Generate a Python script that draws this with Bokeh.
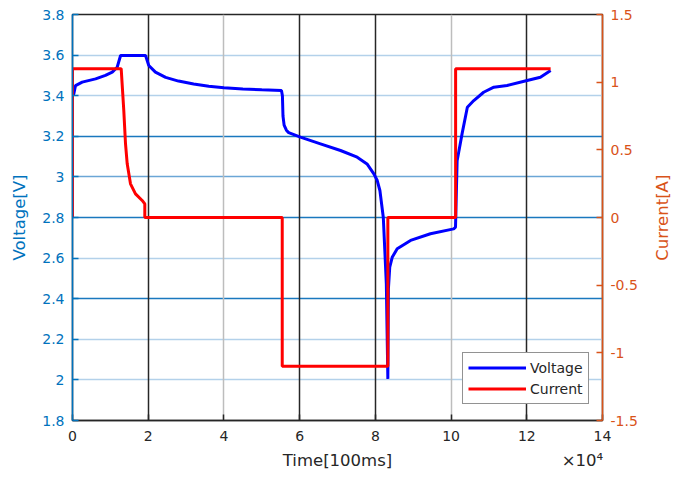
import math
from bokeh.plotting import figure
from bokeh.models import (Range1d, LinearAxis, FixedTicker, Grid,
                          CustomJSTickFormatter)
from bokeh.embed import file_html
from bokeh.resources import INLINE

# ---------------- data (time in units of 1e4 x 100ms) ----------------
volt_t = [0.0, 0.034, 0.08, 0.256, 0.61, 0.87, 1.05, 1.18, 1.27, 1.93,
          2.015, 2.19, 2.46, 2.8, 3.2, 3.6, 4.0, 4.5, 5.0, 5.52,
          5.545, 5.56, 5.59, 5.65, 5.71, 6.02, 6.55, 7.08, 7.52, 7.78,
          7.96, 8.05, 8.12, 8.21, 8.29, 8.33,
          8.345, 8.38, 8.445, 8.577, 8.93, 9.455, 10.07, 10.117,
          10.16, 10.29, 10.43, 10.6, 10.86, 11.13, 11.48, 12.01, 12.36, 12.63]
volt_v = [3.40, 3.409, 3.45, 3.467, 3.483, 3.50, 3.516, 3.54, 3.598, 3.598,
          3.549, 3.516, 3.49, 3.472, 3.458, 3.447, 3.439, 3.433, 3.429, 3.426,
          3.40, 3.30, 3.255, 3.23, 3.218, 3.196, 3.163, 3.13, 3.097, 3.064,
          3.015, 2.982, 2.933, 2.80, 2.473, 2.005,
          2.45, 2.555, 2.604, 2.646, 2.687, 2.72, 2.744, 2.752,
          3.08, 3.212, 3.343, 3.376, 3.417, 3.442, 3.45, 3.475, 3.491, 3.524]

curr_t = [0.0, 0.0, 1.286, 1.355, 1.40, 1.445, 1.532, 1.664, 1.84, 1.91,
          1.91, 5.54, 5.54, 8.33, 8.33, 10.12, 10.12, 12.63]
curr_a = [0.0, 1.1, 1.1, 0.79, 0.545, 0.397, 0.249, 0.175, 0.126, 0.10,
          0.0, 0.0, -1.1, -1.1, 0.0, 0.0, 1.1, 1.1]

x_ticks = [0, 2, 4, 6, 8, 10, 12, 14]
v_ticks = [1.8, 2.0, 2.2, 2.4, 2.6, 2.8, 3.0, 3.2, 3.4, 3.6, 3.8]
i_ticks = [-1.5, -1.0, -0.5, 0.0, 0.5, 1.0, 1.5]

x_title = "Time[100ms]"
x_exponent = "×10⁴"
y_title = "Voltage[V]"
y2_title = "Current[A]"

# grid line groups (styling of the reference's rendered grid)
v_grid_light = [2.0, 2.2, 2.6, 3.4, 3.6]
v_grid_mid = [3.0]
v_grid_dark = [2.4, 2.8, 3.2]
x_grid_dark = [2, 6, 8, 12]
x_grid_gray = [4, 10]

# label anchor positions (layout only)
X_TITLE_POS = 7.0
X_EXP_POS = 13.47
Y2_TITLE_POS = -0.32

BLUE_AX = "#0072BD"
ORANGE_AX = "#D95319"
DARK = "#262626"
FONT = "DejaVu Sans"

fmt = CustomJSTickFormatter(code="return String(Math.round(tick*10)/10);")

p = figure(frame_width=530, frame_height=406,
           x_range=Range1d(0, 14), y_range=Range1d(1.8, 3.8),
           output_backend="svg", toolbar_location=None,
           x_axis_location=None, y_axis_location=None,
           min_border_left=72, min_border_right=78,
           min_border_top=14, min_border_bottom=59,
           background_fill_color="white", border_fill_color="white")
p.extra_y_ranges = {"curr": Range1d(-1.5, 1.5)}
p.grid.visible = False
p.outline_line_color = DARK
p.outline_line_width = 1.5

def add_grid(dim, ticks, color):
    g = Grid(dimension=dim, ticker=FixedTicker(ticks=ticks),
             grid_line_color=color, grid_line_width=1.5)
    p.add_layout(g)

add_grid(1, v_grid_light, "#B3D1EA")
add_grid(1, v_grid_mid, "#6BA6D6")
add_grid(1, v_grid_dark, "#1A78BE")
add_grid(0, x_grid_gray, "#BDBDBD")
add_grid(0, x_grid_dark, DARK)

def style_axis(ax, color, size="14px"):
    ax.axis_line_color = color
    ax.axis_line_width = 1.5
    ax.major_tick_line_color = color
    ax.major_tick_line_width = 1.5
    ax.major_tick_in = 6
    ax.major_tick_out = 0
    ax.minor_tick_line_color = None
    ax.major_label_text_color = color
    ax.major_label_text_font = FONT
    ax.major_label_text_font_size = size
    ax.axis_label_text_color = color
    ax.axis_label_text_font = FONT
    ax.axis_label_text_font_size = "16.5px"
    ax.axis_label_text_font_style = "normal"
    ax.formatter = fmt

def bare_axis(ax, color, size="16.5px"):
    ax.axis_line_color = None
    ax.major_tick_line_color = None
    ax.minor_tick_line_color = None
    ax.major_tick_in = 0
    ax.major_tick_out = 0
    ax.major_label_text_color = color
    ax.major_label_text_font = FONT
    ax.major_label_text_font_size = size

left = LinearAxis(ticker=FixedTicker(ticks=v_ticks), axis_label=y_title)
style_axis(left, BLUE_AX)
left.major_label_standoff = 8
left.axis_label_standoff = 10
p.add_layout(left, "left")

right = LinearAxis(y_range_name="curr", ticker=FixedTicker(ticks=i_ticks))
style_axis(right, ORANGE_AX)
right.major_label_standoff = 8
p.add_layout(right, "right")

right_title = LinearAxis(y_range_name="curr",
                         ticker=FixedTicker(ticks=[Y2_TITLE_POS]),
                         major_label_overrides={Y2_TITLE_POS: y2_title},
                         major_label_orientation=math.pi / 2)
bare_axis(right_title, ORANGE_AX)
right_title.major_label_standoff = 22
p.add_layout(right_title, "right")

bottom = LinearAxis(ticker=FixedTicker(ticks=x_ticks))
style_axis(bottom, DARK)
bottom.major_label_standoff = 10
p.add_layout(bottom, "below")

bottom_title = LinearAxis(ticker=FixedTicker(ticks=[X_TITLE_POS, X_EXP_POS]),
                          major_label_overrides={X_TITLE_POS: x_title,
                                                 X_EXP_POS: x_exponent})
bare_axis(bottom_title, DARK)
bottom_title.major_label_standoff = 7
p.add_layout(bottom_title, "below")

p.line(volt_t, volt_v, line_color="#0000FF", line_width=3,
       legend_label="Voltage")
p.line(curr_t, curr_a, y_range_name="curr", line_color="#FF0000",
       line_width=3, legend_label="Current")

lg = p.legend[0]
lg.location = (390, 16)
lg.glyph_width = 58
lg.glyph_height = 19
lg.label_height = 19
lg.label_standoff = 4
lg.padding = 5
lg.spacing = 2
lg.margin = 0
lg.label_text_font = FONT
lg.label_text_font_size = "14px"
lg.label_text_color = DARK
lg.border_line_color = DARK
lg.border_line_width = 1.5
lg.background_fill_color = "white"
lg.background_fill_alpha = 1.0

open("out.html", "w").write(file_html(p, INLINE))
